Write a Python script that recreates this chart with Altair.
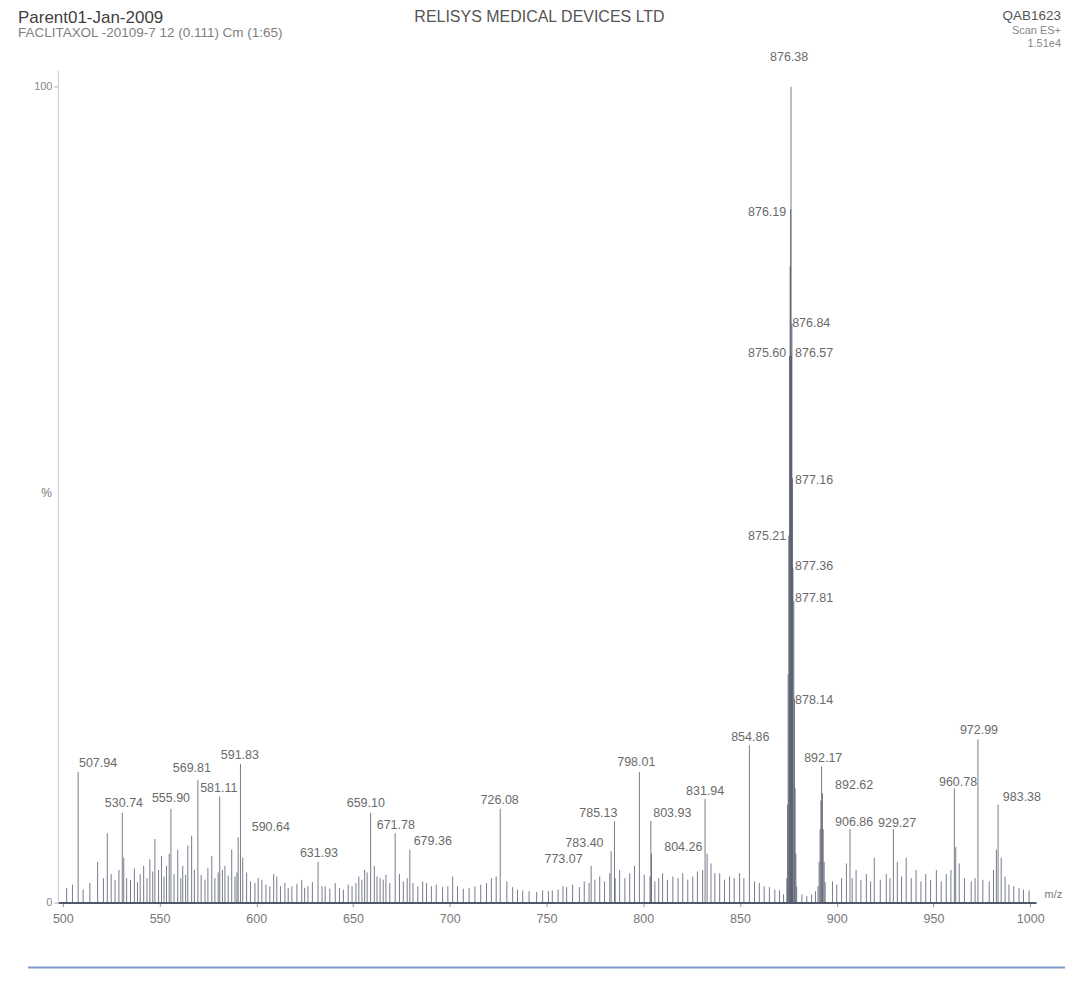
import altair as alt
import pandas as pd

# ---------------- data ----------------
# main (base) peak profile, m/z and % intensity
main_mz = [874.2, 874.6, 874.9, 875.21, 875.60, 875.9, 876.19, 876.38, 876.57,
           876.84, 877.16, 877.36, 877.81, 878.14, 878.5, 878.9, 879.3]
main_pct = [3, 12, 28, 45, 67, 78, 85, 100, 67, 71, 52, 41, 37, 25, 14, 6, 2]

# second profile peak near 892
p892_mz = [890.3, 890.9, 891.4, 891.8, 892.17, 892.62, 893.0, 893.5, 894.0]
p892_pct = [2.0, 5.0, 9.0, 12.5, 16.7, 13.4, 9.0, 5.0, 2.5]

# labelled centroid peaks
peak_mz = [507.94, 530.74, 555.90, 569.81, 581.11, 591.83, 590.64, 631.93, 659.10,
           671.78, 679.36, 726.08, 773.07, 783.40, 785.13, 798.01, 803.93, 804.26,
           831.94, 854.86, 906.86, 929.27, 960.78, 972.99, 983.38]
peak_pct = [16.0, 11.0, 11.5, 15.0, 13.0, 17.0, 8.0, 5.0, 11.0,
            8.5, 6.5, 11.5, 4.5, 6.3, 10.0, 16.0, 10.0, 6.0,
            12.7, 19.3, 9.0, 9.0, 14.0, 20.0, 12.0]

# unlabelled noise spikes
minor_mz = [502.0, 505.0, 510.5, 514.0, 518.0, 521.0, 523.0, 525.0, 527.0, 529.0,
            531.5, 533.0, 535.0, 537.0, 538.6, 540.0, 541.8, 543.5, 545.0, 546.5,
            547.6, 549.5, 551.0, 552.3, 553.6, 555.0, 557.5, 559.4, 561.0, 562.0,
            563.5, 564.6, 566.6, 568.0, 571.5, 573.5, 575.0, 577.0, 578.6, 580.3,
            582.5, 583.8, 585.5, 587.3, 589.0, 590.0, 593.0, 595.0, 597.0, 599.3,
            601.0, 602.9, 605.0, 607.0, 609.0, 610.6, 612.5, 614.8, 616.5, 618.4,
            621.0, 623.5, 625.0, 626.7, 629.0, 634.0, 635.6, 638.0, 640.8, 643.0,
            645.0, 647.5, 649.5, 651.5, 653.0, 654.6, 656.0, 657.3, 661.0, 662.4,
            664.0, 665.6, 667.0, 669.0, 674.0, 676.0, 678.0, 681.0, 683.5, 686.0,
            688.0, 690.5, 693.0, 696.3, 699.0, 701.5, 704.0, 707.0, 710.0, 713.0,
            716.0, 719.0, 721.5, 724.0, 729.5, 732.5, 735.0, 737.7, 741.0, 744.9,
            748.0, 751.0, 753.0, 756.0, 758.5, 760.4, 763.5, 767.0, 769.5, 772.0,
            775.0, 777.5, 780.0, 782.7, 785.5, 787.8, 790.5, 793.0, 795.5, 800.5,
            803.5, 806.0, 808.0, 810.0, 812.5, 815.3, 818.0, 820.4, 823.0, 825.6,
            828.0, 830.7, 833.0, 835.0, 837.0, 839.5, 842.0, 844.6, 847.0, 849.8,
            852.0, 857.5, 860.0, 862.5, 865.2, 868.0, 870.4, 872.5, 882.0, 884.5,
            887.0, 889.0, 897.8, 900.0, 902.5, 905.0, 908.0, 910.0, 912.5, 915.3,
            917.5, 919.4, 922.5, 925.6, 927.5, 931.3, 933.5, 935.9, 938.5, 941.0,
            943.5, 946.0, 948.5, 951.5, 954.0, 956.6, 959.0, 961.5, 963.3, 966.0,
            969.5, 971.5, 975.5, 978.8, 981.0, 982.5, 985.0, 987.0, 989.0, 991.5,
            994.2, 996.5, 999.4]
minor_pct = [1.8, 2.2, 1.6, 2.4, 5.0, 3.0, 8.5, 3.5, 2.8, 4.0,
             5.5, 3.0, 2.8, 4.2, 2.5, 3.5, 4.5, 3.0, 5.3, 3.8,
             7.8, 4.0, 5.7, 3.2, 4.5, 6.0, 3.5, 6.5, 3.0, 4.5,
             3.4, 7.0, 8.2, 4.0, 3.4, 2.8, 4.2, 5.7, 3.0, 3.7,
             4.0, 4.5, 3.3, 6.5, 3.2, 3.7, 5.5, 3.7, 2.6, 2.4,
             3.0, 2.8, 2.2, 2.0, 3.5, 3.2, 2.0, 2.4, 1.8, 2.0,
             2.3, 2.8, 1.8, 2.0, 2.5, 2.0, 2.0, 1.7, 2.4, 1.8,
             1.6, 2.2, 2.0, 2.4, 3.2, 2.8, 4.0, 3.7, 4.5, 3.2,
             3.0, 2.8, 3.4, 2.4, 3.5, 2.6, 3.0, 2.4, 2.0, 2.6,
             2.4, 2.0, 2.2, 1.9, 2.0, 3.2, 2.0, 1.7, 1.8, 2.0,
             2.2, 2.4, 3.0, 3.2, 2.6, 1.9, 1.6, 1.5, 1.4, 1.3,
             1.5, 1.4, 1.5, 1.6, 2.0, 1.9, 2.2, 1.9, 2.6, 2.4,
             2.8, 3.2, 2.6, 3.6, 3.0, 4.0, 3.0, 3.6, 4.5, 3.4,
             3.2, 2.6, 3.0, 3.6, 2.8, 3.2, 3.0, 3.6, 2.8, 3.2,
             3.8, 4.0, 6.0, 4.8, 3.6, 3.6, 2.8, 3.2, 3.0, 3.6,
             3.0, 2.6, 2.4, 2.0, 1.9, 1.6, 1.5, 1.0, 1.0, 0.8,
             1.0, 1.4, 2.6, 2.2, 3.0, 4.8, 3.0, 4.0, 2.8, 3.5,
             2.6, 5.5, 2.8, 3.5, 3.0, 5.0, 3.2, 5.5, 3.0, 4.0,
             2.6, 3.5, 2.8, 4.0, 2.6, 3.5, 4.0, 6.8, 4.8, 3.0,
             2.6, 3.0, 2.8, 2.6, 4.0, 6.5, 5.5, 3.2, 2.2, 2.0,
             1.8, 1.6, 1.5]

# peak annotations: text and where it is printed (m/z, %)
label_text = ["876.38", "876.19", "876.84", "876.57", "875.60", "877.16", "875.21",
              "877.36", "877.81", "878.14", "507.94", "530.74", "555.90", "569.81",
              "581.11", "591.83", "590.64", "631.93", "659.10", "671.78", "679.36",
              "726.08", "773.07", "783.40", "785.13", "798.01", "803.93", "804.26",
              "831.94", "854.86", "892.17", "892.62", "906.86", "929.27", "960.78",
              "972.99", "983.38"]
label_mz = [875.4, 864.0, 886.8, 888.3, 864.0, 888.3, 864.0,
            888.3, 888.3, 888.3, 518.2, 531.6, 555.9, 566.7,
            580.6, 591.5, 607.5, 632.4, 656.6, 672.1, 691.2,
            725.8, 758.8, 769.6, 776.8, 796.4, 815.0, 820.7,
            832.0, 855.3, 893.0, 909.0, 909.0, 931.2, 962.7,
            973.5, 995.7]
label_pct = [103.6, 84.7, 71.1, 67.4, 67.4, 51.8, 44.9,
             41.2, 37.3, 24.8, 17.1, 12.2, 12.8, 16.5,
             14.1, 18.1, 9.3, 6.1, 12.2, 9.5, 7.5,
             12.6, 5.3, 7.3, 11.0, 17.2, 11.0, 6.8,
             13.7, 20.3, 17.7, 14.4, 9.9, 9.7, 14.8,
             21.1, 13.0]

x_ticks = [500, 550, 600, 650, 700, 750, 800, 850, 900, 950, 1000]
y_ticks = [0, 100]

header_left = "Parent01-Jan-2009"
header_sub = "FACLITAXOL -20109-7 12 (0.111) Cm (1:65)"
header_center = "RELISYS MEDICAL DEVICES LTD"
header_right = ["QAB1623", "Scan ES+", "1.51e4"]

# ---------------- chart ----------------
FONT = "Liberation Sans"
sticks = pd.DataFrame({
    "mz": minor_mz + peak_mz + p892_mz + main_mz,
    "pct": minor_pct + peak_pct + p892_pct + main_pct,
})
labels = pd.DataFrame({"label": label_text, "lmz": label_mz, "lpct": label_pct})

xs = alt.Scale(domain=[497.5, 1003], nice=False, zero=False)
ys = alt.Scale(domain=[0, 102], nice=False)

spec = alt.Chart(sticks).mark_rule(color="#4a5162", strokeWidth=1, opacity=0.75).encode(
    x=alt.X("mz:Q", scale=xs,
            axis=alt.Axis(values=x_ticks, format="d", title="m/z", grid=False,
                          labelFont=FONT, labelFontSize=12.5, labelColor="#777",
                          labelPadding=6, tickSize=4, tickColor="#999",
                          domainColor="#50586a", domainWidth=2,
                          titleFont=FONT, titleFontSize=11, titleFontWeight="normal",
                          titleColor="#777", titleX=987, titleY=-8, titleAlign="left",
                          titleBaseline="middle")),
    y=alt.Y("pct:Q", scale=ys,
            axis=alt.Axis(values=y_ticks, title="%", grid=False, labelFont=FONT,
                          labelFontSize=11, labelColor="#888", labelPadding=2,
                          tickSize=4, tickColor="#aaa", domainColor="#ccc",
                          titleFont=FONT, titleFontSize=12, titleFontWeight="normal",
                          titleColor="#777", titleAngle=0, titleX=-12, titleY=423,
                          titleAlign="center", titleBaseline="middle")),
    y2=alt.datum(0),
)

text = alt.Chart(labels).mark_text(font=FONT, fontSize=12.5, color="#6a6a6a").encode(
    x=alt.X("lmz:Q", scale=xs),
    y=alt.Y("lpct:Q", scale=ys),
    text="label:N",
)


def header(t, x, y, size, color, align="left", weight="normal"):
    return alt.Chart(pd.DataFrame({"t": [t]})).mark_text(
        font=FONT, fontSize=size, color=color, align=align, baseline="middle",
        fontWeight=weight
    ).encode(x=alt.value(x), y=alt.value(y), text="t:N")


headers = [
    header(header_left, -40, -52, 17, "#3f3f3f"),
    header(header_sub, -40, -37, 13.5, "#808080"),
    header(header_center, 482, -53, 16, "#555", align="center"),
    header(header_right[0], 1004, -54, 13.5, "#555", align="right"),
    header(header_right[1], 1004, -39, 11, "#888", align="right"),
    header(header_right[2], 1004, -26, 11, "#888", align="right"),
]

bottom_line = alt.Chart(pd.DataFrame({"a": [0]})).mark_rule(
    color="#7f9ccc", strokeWidth=2
).encode(x=alt.value(-30), x2=alt.value(1008), y=alt.value(898))

chart = alt.layer(spec, text, bottom_line, *headers).properties(
    width=979, height=833,
    autosize=alt.AutoSizeParams(type="none"),
    padding={"left": 50, "top": 62, "right": 30, "bottom": 70},
    background="white",
).configure_view(stroke=None)

chart.save("out.html", embed_options={"renderer": "svg", "actions": False})
